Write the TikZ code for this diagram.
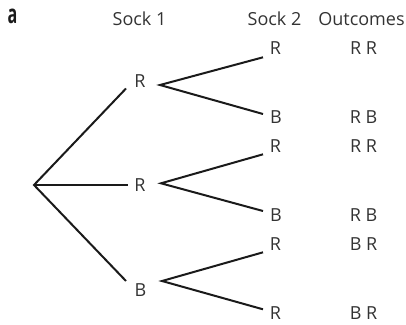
\documentclass[tikz,border=0pt]{standalone}
\usepackage{fontspec}
\setmainfont{Open Sans}
\definecolor{txt}{HTML}{333333}
\definecolor{ln}{HTML}{1A1A1A}
\begin{document}
\begin{tikzpicture}[x=1pt,y=-1pt,
  lbl/.style={inner sep=0pt,anchor=base,text=txt,font=\fontsize{18}{20}\selectfont},
  branch/.style={draw=ln,line width=2pt}]
\useasboundingbox (0,0) rectangle (406,324);
% headers
\node[lbl,text=ln,font=\fontsize{26}{28}\selectfont\bfseries] (lab) at (12.5,23.3) {\scalebox{0.62}[1]{a}};
\node[lbl] (h1) at (139.5,25.5) {Sock 1};
\node[lbl] (h2) at (274.5,25.5) {Sock 2};
\node[lbl] (h3) at (361.5,25.5) {Outcomes};
% sock 1
\node[lbl] (s1a) at (140,87) {R};
\node[lbl] (s1b) at (140,191) {R};
\node[lbl] (s1c) at (140.5,296) {B};
% sock 2
\node[lbl] (s2a) at (275.5,54.5) {R};
\node[lbl] (s2b) at (276,123.3) {B};
\node[lbl] (s2c) at (275.5,152.5) {R};
\node[lbl] (s2d) at (276,221) {B};
\node[lbl] (s2e) at (275.5,250) {R};
\node[lbl] (s2f) at (275.5,319) {R};
% outcomes
\node[lbl] (o1) at (363.5,54.5) {R R};
\node[lbl] (o2) at (363.5,123.3) {R B};
\node[lbl] (o3) at (363.5,152.5) {R R};
\node[lbl] (o4) at (363.5,221) {R B};
\node[lbl] (o5) at (363.5,250) {B R};
\node[lbl] (o6) at (363.5,319) {B R};
% branch points
\coordinate (root) at (34,185);
\coordinate (a-in) at (126,88.5);
\coordinate (a-out) at (160,85);
\coordinate (b-in) at (127.5,185);
\coordinate (b-out) at (161,183.3);
\coordinate (c-in) at (126,281);
\coordinate (c-out) at (162,281);
\coordinate (e1) at (263,57.3);
\coordinate (e2) at (263,114);
\coordinate (e3) at (263,154.3);
\coordinate (e4) at (263,211);
\coordinate (e5) at (263,252.3);
\coordinate (e6) at (263,309.3);
% connectors
\draw[branch] (a-in) -- (root) -- (c-in);
\draw[branch] (root) -- (b-in);
\draw[branch] (e1) -- (a-out) -- (e2);
\draw[branch] (e3) -- (b-out) -- (e4);
\draw[branch] (e5) -- (c-out) -- (e6);
\end{tikzpicture}
\end{document}
